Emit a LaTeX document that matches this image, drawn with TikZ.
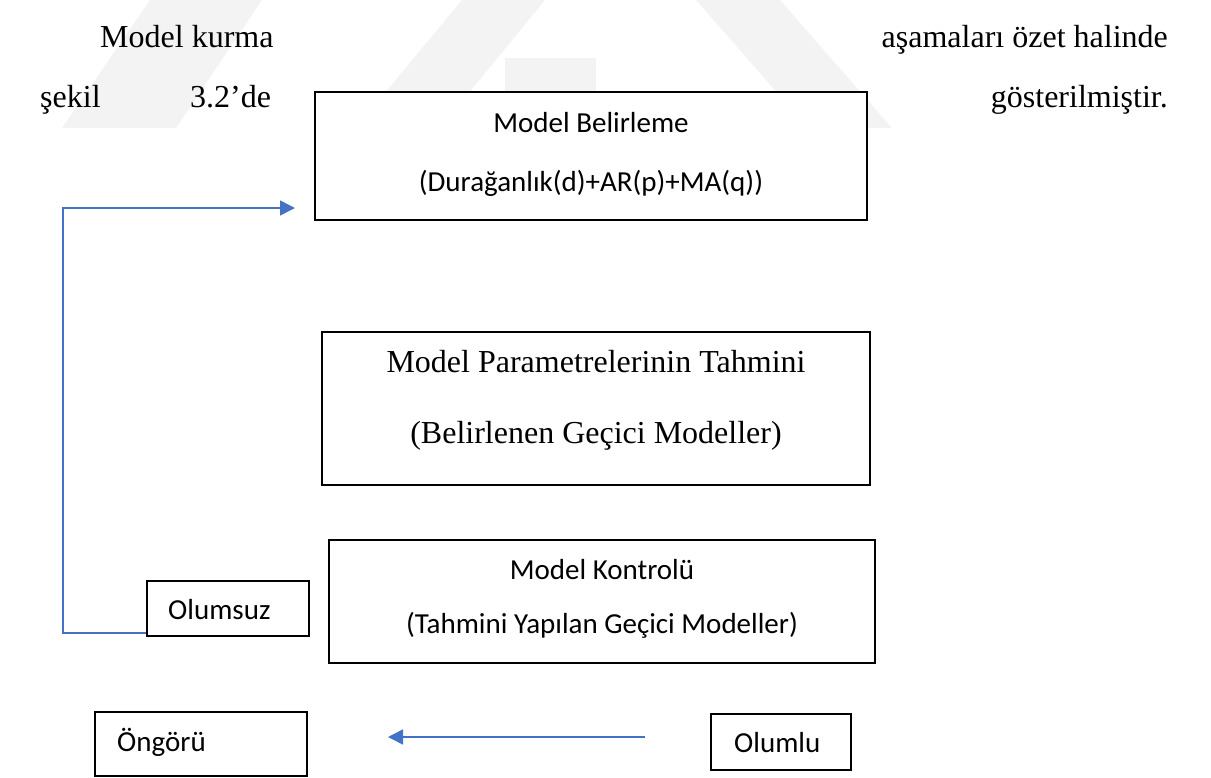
\documentclass[tikz,border=0pt]{standalone}
\usepackage{fontspec}
\setmainfont{Liberation Serif}
\newfontfamily\calfont{Carlito}
\usetikzlibrary{arrows.meta}
\definecolor{linkblue}{HTML}{4472C4}
\definecolor{markgray}{HTML}{F3F3F3}
\begin{document}
\begin{tikzpicture}[x=1pt,y=-1pt,
  stagebox/.style={draw=black,line width=2.2pt,rectangle,inner sep=0pt},
  serif/.style={font=\fontsize{32}{38}\selectfont,inner sep=0pt},
  sans/.style={font=\calfont\fontsize{29}{35}\selectfont,inner sep=0pt},
  flow/.style={draw=linkblue,line width=1.6pt,-{Triangle[length=15pt,width=15pt]}}]
\useasboundingbox (0,0) rectangle (1211,777);

% faint background watermark bands
\fill[markgray] (150,0) -- (262,0) -- (176,128) -- (62,128) -- cycle;
\fill[markgray] (462,0) -- (545,0) -- (440,128) -- (356,128) -- cycle;
\fill[markgray] (505,58) -- (596,58) -- (596,128) -- (505,128) -- cycle;
\fill[markgray] (696,0) -- (780,0) -- (892,128) -- (808,128) -- cycle;

% paragraph text around the figure
\node[serif,anchor=base west] (p1) at (100,47) {Model kurma};
\node[serif,anchor=base east] (p2) at (1168,47) {aşamaları özet halinde};
\node[serif,anchor=base west] (p3) at (40,107) {şekil};
\node[serif,anchor=base west] (p4) at (190,107) {3.2’de};
\node[serif,anchor=base east] (p5) at (1168,107) {gösterilmiştir.};

% stage boxes
\node[stagebox,fill=white,minimum width=552pt,minimum height=128pt] (spec) at (591,156) {};
\node[sans,anchor=base] (specA) at (591,132) {Model Belirleme};
\node[sans,anchor=base] (specB) at (591,191) {(Durağanlık(d)+AR(p)+MA(q))};

\node[stagebox,minimum width=548pt,minimum height=153pt] (est) at (596,408.5) {};
\node[serif,anchor=base] (estA) at (596,372) {Model Parametrelerinin Tahmini};
\node[serif,anchor=base] (estB) at (596,443) {(Belirlenen Geçici Modeller)};

\node[stagebox,minimum width=546pt,minimum height=123pt] (chk) at (602,601.5) {};
\node[sans,anchor=base] (chkA) at (602,579) {Model Kontrolü};
\node[sans,anchor=base] (chkB) at (602,633) {(Tahmini Yapılan Geçici Modeller)};

% outcome boxes
\node[stagebox,minimum width=162pt,minimum height=55pt] (neg) at (228,608.5) {};
\node[sans,anchor=base west] (negT) at (168,619) {Olumsuz};

\node[stagebox,minimum width=212pt,minimum height=64pt] (fc) at (201,744) {};
\node[sans,anchor=base west] (fcT) at (117,751) {Öngörü};

\node[stagebox,minimum width=140pt,minimum height=56pt] (pos) at (781,742) {};
\node[sans,anchor=base west] (posT) at (734,752) {Olumlu};

% connectors
\coordinate (loopCorner) at (63,633);
\coordinate (loopTop) at (63,208);
\coordinate (specIn) at (295,208);
\draw[flow] (neg.west |- loopCorner) -- (loopCorner) -- (loopTop) -- (specIn);

\coordinate (posOut) at (645,737);
\coordinate (fcIn) at (388,737);
\draw[flow] (posOut) -- (fcIn);
\end{tikzpicture}
\end{document}
